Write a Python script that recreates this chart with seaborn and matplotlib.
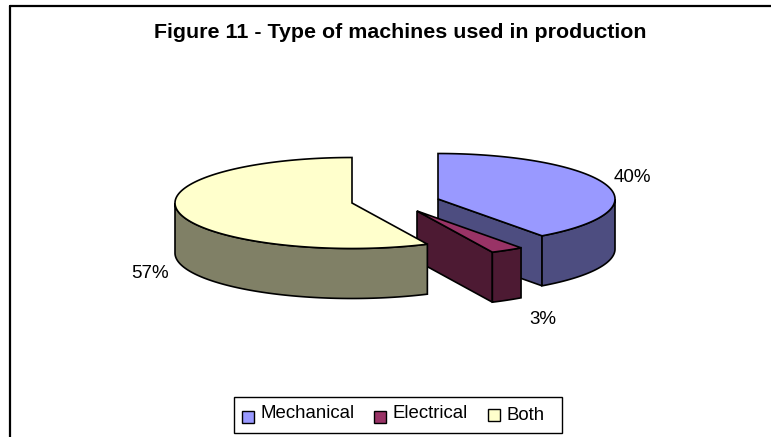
import numpy as np
import matplotlib.pyplot as plt
from matplotlib.patches import Rectangle
import seaborn as sns

categories = ['Mechanical', 'Electrical', 'Both']
shares = [40, 3, 57]
labels = ['40%', '3%', '57%']
title = 'Figure 11 - Type of machines used in production'

sns.set_theme(style='white')
plt.rcParams['font.family'] = ['Liberation Sans', 'DejaVu Sans']

colors = sns.color_palette(['#9999FF', '#993366', '#FFFFCC'])
sides = [tuple(c * 0.5 for c in col) for col in colors]

# pixel layout of the pie
centers = [(438, 199), (417, 211), (352, 203)]
rx, ry = 177, 45.5
depth = 50
label_pos = [(632, 178), (543, 320), (150, 274)]

fig = plt.figure(figsize=(7.71, 4.37), dpi=100)
ax = fig.add_axes([0, 0, 1, 1])
ax.set_xlim(0, 771)
ax.set_ylim(437, 0)
ax.axis('off')


def pt(c, a):
    # a = clockwise angle from 12 o'clock
    return c[0] + rx * np.sin(a), c[1] - ry * np.cos(a)


edges = np.cumsum([0] + shares) / sum(shares) * 2 * np.pi
for i in range(len(shares)):
    c = centers[i]
    a0, a1 = edges[i], edges[i + 1]
    t = np.linspace(a0, a1, 200)
    x, y = pt(c, t)
    top_x = np.r_[c[0], x]
    top_y = np.r_[c[1], y]
    # radial cut face, only if it looks to the viewer
    if np.sin(a1) > 0 and np.cos(a1) < 0:
        ex, ey = pt(c, a1)
        ax.fill([c[0], ex, ex, c[0]], [c[1], ey, ey + depth, c[1] + depth],
                facecolor=sides[i], edgecolor='black', lw=1.2, zorder=i + 1)
    # outer wall, only the front half of the rim
    lo, hi = max(a0, np.pi / 2), min(a1, 3 * np.pi / 2)
    if hi > lo:
        t2 = np.linspace(lo, hi, 200)
        wx, wy = pt(c, t2)
        ax.fill(np.r_[wx, wx[::-1]], np.r_[wy, wy[::-1] + depth],
                facecolor=sides[i], edgecolor='black', lw=1.2, zorder=i + 1)
    ax.fill(top_x, top_y, facecolor=colors[i], edgecolor='black', lw=1.2, zorder=i + 1)
    ax.text(label_pos[i][0], label_pos[i][1], labels[i], fontsize=13.5, color='black',
            ha='center', va='center', zorder=5)

ax.text(400, 32, title, fontsize=15.4, fontweight='bold', color='black', ha='center', va='center')

# chart frame: only left and top are in the crop
ax.plot([9.5, 9.5], [437, 6], color='black', lw=1.6)
ax.plot([9.5, 771], [6, 6], color='black', lw=1.6)

# legend box
ax.add_patch(Rectangle((234, 397), 328, 35.5, facecolor='white', edgecolor='black', lw=1.0, zorder=6))
leg_x = [242, 374, 488]
leg_text_x = [260, 393, 507]
leg_text_y = [413, 413, 416]
for i, name in enumerate(categories):
    ax.add_patch(Rectangle((leg_x[i], 411 if i < 2 else 409), 11.5, 11.5, facecolor=colors[i],
                           edgecolor='black', lw=1.0, zorder=7))
    ax.text(leg_text_x[i], leg_text_y[i], name, fontsize=13.4, color='black', ha='left', va='center', zorder=7)

fig.savefig('out.png', dpi=100)
